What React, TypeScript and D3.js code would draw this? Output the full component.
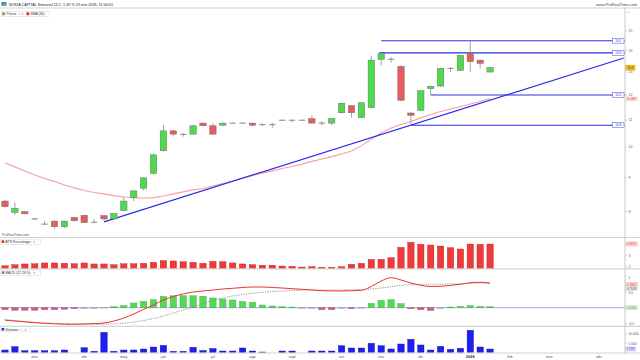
import React from 'react';
import * as d3 from 'd3';

// ---------- data ----------
const START_WEEK = new Date(2025, 1, 10);
const AXIS_WEEKS = 60;

const opens = [8.29, 7.97, 7.99, 7.79, 7.65, 7.73, 7.58, 7.83, 7.89, 7.70, 7.88, 7.79, 8.02, 8.39, 8.67, 9.13, 9.88, 10.59, 10.46, 10.47, 10.88, 10.78, 10.80, 10.88, 10.88, 10.88, 10.82, 10.82, 10.99, 10.99, 10.99, 11.05, 10.88, 10.88, 11.28, 11.56, 11.09, 11.48, 13.59, 13.59, 13.26, 11.27, 11.38, 12.27, 12.38, 13.17, 13.08, 13.88, 13.55, 13.00];
const highs = [8.33, 8.24, 8.01, 7.82, 7.73, 7.75, 7.74, 7.85, 7.90, 7.78, 7.89, 7.95, 8.40, 8.60, 9.00, 9.78, 10.81, 10.62, 10.52, 10.80, 10.90, 10.87, 10.90, 10.90, 10.90, 10.90, 10.87, 10.89, 11.01, 11.01, 11.01, 11.18, 10.95, 11.06, 11.68, 11.58, 11.70, 13.76, 13.88, 13.70, 13.30, 11.30, 12.20, 12.40, 13.20, 13.22, 13.80, 14.49, 13.57, 13.22];
const lows = [8.11, 7.90, 7.92, 7.76, 7.64, 7.53, 7.54, 7.73, 7.68, 7.67, 7.74, 7.76, 8.00, 8.29, 8.60, 9.10, 9.85, 10.38, 10.38, 10.45, 10.76, 10.45, 10.78, 10.86, 10.86, 10.78, 10.77, 10.71, 10.97, 10.90, 10.97, 10.86, 10.80, 10.80, 11.25, 11.09, 11.07, 11.45, 13.30, 13.44, 11.75, 10.77, 11.35, 12.00, 12.35, 13.00, 13.05, 12.99, 13.17, 12.99];
const closes = [8.13, 8.08, 7.93, 7.79, 7.65, 7.58, 7.73, 7.74, 7.69, 7.70, 7.79, 7.94, 8.29, 8.59, 8.99, 9.74, 10.59, 10.47, 10.46, 10.78, 10.78, 10.47, 10.88, 10.88, 10.88, 10.80, 10.82, 10.82, 10.99, 10.99, 10.99, 10.88, 10.88, 11.05, 11.66, 11.28, 11.68, 13.55, 13.86, 13.59, 11.78, 11.18, 12.18, 12.37, 13.17, 13.17, 13.78, 13.48, 13.40, 13.20];
const sma30 = [9.47, 9.34, 9.21, 9.08, 8.97, 8.88, 8.77, 8.68, 8.60, 8.54, 8.50, 8.45, 8.41, 8.39, 8.38, 8.39, 8.44, 8.50, 8.56, 8.62, 8.66, 8.74, 8.81, 8.89, 8.98, 9.06, 9.14, 9.21, 9.29, 9.35, 9.43, 9.52, 9.60, 9.68, 9.77, 9.87, 10.05, 10.29, 10.51, 10.70, 10.83, 10.94, 11.08, 11.21, 11.33, 11.43, 11.53, 11.63, 11.73, 11.867];
const atrPct = [2.09, 2.18, 2.25, 2.27, 2.34, 2.34, 2.31, 2.27, 2.34, 2.25, 2.25, 2.18, 2.27, 2.27, 2.31, 2.40, 2.55, 2.52, 2.45, 2.40, 2.31, 2.49, 2.45, 2.34, 2.25, 2.18, 2.13, 2.13, 2.06, 2.04, 1.97, 2.00, 1.95, 1.95, 2.00, 2.22, 2.31, 2.67, 2.67, 2.82, 3.76, 4.22, 4.04, 3.97, 3.88, 3.73, 3.61, 4.06, 4.04, 4.061];
const macdLine = [-0.401, -0.424, -0.449, -0.478, -0.497, -0.513, -0.525, -0.529, -0.519, -0.506, -0.487, -0.424, -0.328, -0.201, -0.057, 0.086, 0.245, 0.357, 0.436, 0.500, 0.532, 0.564, 0.596, 0.618, 0.643, 0.659, 0.659, 0.643, 0.627, 0.605, 0.586, 0.564, 0.541, 0.532, 0.532, 0.541, 0.554, 0.675, 0.850, 0.955, 0.882, 0.787, 0.713, 0.675, 0.682, 0.713, 0.745, 0.796, 0.809, 0.7862];
const macdSignal = [-0.369, -0.408, -0.439, -0.465, -0.487, -0.497, -0.510, -0.519, -0.525, -0.529, -0.525, -0.513, -0.494, -0.455, -0.408, -0.344, -0.264, -0.169, -0.073, 0.022, 0.134, 0.229, 0.309, 0.373, 0.420, 0.459, 0.490, 0.516, 0.532, 0.548, 0.557, 0.564, 0.564, 0.564, 0.564, 0.570, 0.580, 0.596, 0.627, 0.669, 0.707, 0.732, 0.745, 0.745, 0.745, 0.755, 0.764, 0.777, 0.787, 0.7538];
const macdHist = [-0.064, -0.08, -0.08, -0.08, -0.064, -0.064, -0.048, -0.032, -0.016, -0.016, 0.016, 0.032, 0.064, 0.15, 0.20, 0.255, 0.36, 0.38, 0.38, 0.38, 0.366, 0.31, 0.277, 0.245, 0.20, 0.17, 0.086, 0.054, 0.032, 0.022, 0.01, -0.01, -0.064, -0.064, -0.01, -0.032, 0.01, 0.137, 0.232, 0.255, 0.127, -0.032, -0.064, -0.086, -0.01, 0.022, 0.041, 0.064, 0.041, 0.0324];
const volume = [1400, 3170, 1020, 1020, 1020, 1020, 1400, 0, 2630, 700, 10900, 700, 1400, 1400, 1940, 3000, 3900, 700, 700, 2850, 1130, 2200, 860, 860, 2470, 860, 320, 0, 860, 860, 0, 860, 860, 860, 3700, 2470, 2470, 5000, 3700, 1940, 4620, 7150, 4090, 1400, 3390, 1770, 2310, 12000, 3010, 1926];

const levelValues = [14.5, 13.9, 12.0, 10.8];
const levelLabels = ['14.5', '13.9', '12.0', '10.8'];
const levelStartWeeks = [38, 37.8, 43, 41];
const trendWeeks = [10, 62.5];
const trendPrices = [7.71, 13.65];

const priceTicks = [8, 9, 10, 11, 12, 13, 14, 15];
const atrTicks = [2, 3];
const macdTicks = [-0.5, 0.5, 1];
const volumeTicks = [5000, 10000];
const volumeTickLabels = ['5.000', '10.000'];
const monthNames = ['ene', 'feb', 'mar', 'abr', 'may', 'jun', 'jul', 'ago', 'sept', 'oct', 'nov', 'dic'];

const titleText = 'NOKIA CAPITAL Semanal 13,2 -1,49 % 19 ene 2026, 11:00:01';

// ---------- layout ----------
const FONT = 'Liberation Sans, Arial, sans-serif';
const AX = 625;
const MAIN_TOP = 8;
const MAIN_BOTTOM = 237.5;
const ATR_BOTTOM = 268.8;
const MACD_BOTTOM = 326.3;
const VOL_BOTTOM = 352.6;

function Tag({ x, y, w, h = 5, text, fill, stroke, color }: any) {
  return (
    <g>
      <rect x={x} y={y - h / 2} width={w} height={h} fill={fill} stroke={stroke} strokeWidth={0.5} />
      <text x={x + w / 2} y={y + 1.1} fontSize={3.2} textAnchor="middle" fill={color} fontFamily={FONT}>{text}</text>
    </g>
  );
}

function PanelLabel({ x, y, w, swatch, text }: any) {
  return (
    <g fontFamily={FONT}>
      <rect x={x} y={y - 2.6} width={w} height={5.2} fill="#fff" stroke="#ccc" strokeWidth={0.4} />
      {swatch}
      <text x={x + 4.5} y={y + 1.2} fontSize={3.4} fill="#333">{text}</text>
    </g>
  );
}

export default function App() {
  const weeks = d3.range(AXIS_WEEKS + 3).map((i) => d3.timeDay.offset(START_WEEK, 7 * i));
  const x = d3.scaleTime().domain([weeks[0], weeks[AXIS_WEEKS]]).range([5, 599]);
  const xi = (i: number) => x(d3.timeHour.offset(START_WEEK, Math.round(i * 168)));
  const y = d3.scaleLog().domain([8, 15]).range([211.3, 31]);
  const yAtr = d3.scaleLinear().domain([2, 3]).range([266.7, 255.7]);
  const yMacd = d3.scaleLinear().domain([0, 1]).range([307.7, 276.3]);
  const yVol = d3.scaleLinear().domain([0, 10000]).range([VOL_BOTTOM, 334]);
  const bw = 6.4;

  const smaPath = d3.line<number>().x((_, i) => xi(i)).y((d) => y(d))(sma30) || '';
  const macdPath = d3.line<number>().x((_, i) => xi(i)).y((d) => yMacd(d)).curve(d3.curveMonotoneX)(macdLine) || '';
  const sigPath = d3.line<number>().x((_, i) => xi(i)).y((d) => yMacd(d)).curve(d3.curveMonotoneX)(macdSignal) || '';

  const monthTicks = weeks
    .slice(0, AXIS_WEEKS + 1)
    .map((d, i) => ({ d, i }))
    .filter(({ d, i }) => i > 0 && d.getMonth() !== weeks[i - 1].getMonth());

  const sepLine = (yy: number) => <line x1={0} x2={640} y1={yy} y2={yy} stroke="#d4d4d4" strokeWidth={1.2} />;

  return (
    <svg width={640} height={360} style={{ position: 'absolute', left: 0, top: 0, background: '#fff' }} fontFamily={FONT}>
      <defs>
        <clipPath id="mainClip"><rect x={0} y={MAIN_TOP} width={AX} height={MAIN_BOTTOM - MAIN_TOP} /></clipPath>
      </defs>
      <rect x={0} y={0} width={640} height={360} fill="#fff" />

      {/* header */}
      <rect x={1.5} y={2} width={5} height={4} fill="#3b7dd8" />
      <rect x={3} y={3.5} width={3.5} height={2.5} fill="#5cc85c" />
      <text x={9} y={6.2} fontSize={3.8} fill="#222" textLength={104} lengthAdjust="spacingAndGlyphs">{titleText}</text>
      <text x={596} y={6} fontSize={3.8} fill="#444" textLength={41} lengthAdjust="spacingAndGlyphs">www.ProRealTime.com</text>
      <text x={627} y={13} fontSize={3.4} fill="#777">+,</text>
      {sepLine(MAIN_TOP)}

      {/* legend */}
      <rect x={1.5} y={11.3} width={48} height={5} fill="#fff" stroke="#ccc" strokeWidth={0.4} />
      <rect x={2.3} y={12.4} width={1.4} height={2.8} fill="#e33" />
      <rect x={3.7} y={12.4} width={1.4} height={2.8} fill="#3c3" />
      <text x={6.5} y={15.1} fontSize={3.4} fill="#333">Precio</text>
      <text x={17.5} y={15.1} fontSize={3.4} fill="#777">✎ ✢</text>
      <rect x={26.5} y={12.4} width={2.8} height={2.8} fill="#e22" />
      <text x={30.5} y={15.1} fontSize={3.4} fill="#333">SMA (30)</text>

      {/* main panel */}
      <g clipPath="url(#mainClip)">
        <path d={smaPath} fill="none" stroke="#f29090" strokeWidth={1.1} opacity={0.85} />
        {levelValues.map((v, k) => (
          <line key={'lv' + k} x1={xi(levelStartWeeks[k])} x2={AX} y1={y(v)} y2={y(v)} stroke="#2f2fe8" strokeWidth={1.1} />
        ))}
        <line x1={xi(trendWeeks[0])} y1={y(trendPrices[0])} x2={xi(trendWeeks[1])} y2={y(trendPrices[1])} stroke="#2a2af0" strokeWidth={1.2} />
        {closes.map((c, i) => {
          const o = opens[i];
          const cx = xi(i);
          const up = c > o;
          const doji = Math.abs(c - o) < 0.005;
          const top = y(Math.max(o, c));
          const bot = y(Math.min(o, c));
          return (
            <g key={'c' + i}>
              <line x1={cx} x2={cx} y1={y(highs[i])} y2={y(lows[i])} stroke="#8a8a8a" strokeWidth={0.8} />
              {doji ? (
                <line x1={cx - bw / 2} x2={cx + bw / 2} y1={y(o)} y2={y(o)} stroke="#8a8a8a" strokeWidth={1} />
              ) : (
                <rect x={cx - bw / 2} y={top} width={bw} height={Math.max(1, bot - top)}
                  fill={up ? '#4ddb4d' : '#e85c5c'} stroke="#707070" strokeWidth={0.5} />
              )}
            </g>
          );
        })}
        {levelLabels.map((t, k) => (
          <Tag key={'lt' + k} x={612.5} y={y(levelValues[k])} w={11.5} text={t} fill="#fff" stroke="#4a4aee" color="#3333cc" />
        ))}
      </g>
      <text x={2} y={236.3} fontSize={3.4} fill="#555">ProRealTime.com</text>

      {/* price axis */}
      {priceTicks.map((t) => (
        <g key={'pt' + t}>
          <line x1={AX} x2={AX + 2} y1={y(t)} y2={y(t)} stroke="#999" strokeWidth={0.5} />
          <text x={AX + 3.5} y={y(t) + 1.2} fontSize={3.5} fill="#555">{t}</text>
        </g>
      ))}
      <Tag x={AX + 0.5} y={y(closes[closes.length - 1])} w={9.5} text="13.2" fill="#f2c21a" stroke="#d9a800" color="#333" />
      <Tag x={AX + 0.5} y={y(sma30[sma30.length - 1]) + 0.8} w={12} h={4.2} text={String(sma30[sma30.length - 1])} fill="#fde2e2" stroke="#fde2e2" color="#e03030" />
      {sepLine(MAIN_BOTTOM)}

      {/* ATR panel */}
      {atrPct.map((v, i) => (
        <rect key={'a' + i} x={xi(i) - bw / 2} y={yAtr(v)} width={bw} height={ATR_BOTTOM - yAtr(v)}
          fill="#ee3a3a" stroke="#c42020" strokeWidth={0.4} />
      ))}
      <PanelLabel x={0.8} y={241.7} w={40} text="ATR Percentage"
        swatch={<rect x={1.6} y={240.3} width={2.6} height={2.6} fill="#e22" />} />
      <text x={29} y={242.9} fontSize={3.4} fill="#777">✎ ✢</text>
      {atrTicks.map((t) => (
        <g key={'at' + t}>
          <line x1={AX} x2={AX + 2} y1={yAtr(t)} y2={yAtr(t)} stroke="#999" strokeWidth={0.5} />
          <text x={AX + 3.5} y={yAtr(t) + 1.2} fontSize={3.5} fill="#555">{t}</text>
        </g>
      ))}
      <Tag x={AX + 0.5} y={yAtr(atrPct[atrPct.length - 1])} w={12} h={4.2} text="4.0610" fill="#fde2e2" stroke="#f3b0b0" color="#e03030" />
      {sepLine(ATR_BOTTOM)}

      {/* MACD panel */}
      <line x1={0} x2={AX} y1={yMacd(0)} y2={yMacd(0)} stroke="#a4a4f2" strokeWidth={1} />
      {macdHist.map((v, i) => {
        const y0 = yMacd(0);
        const y1 = yMacd(v);
        const small = Math.abs(v) < 0.02;
        return (
          <rect key={'h' + i} x={xi(i) - bw / 2} y={Math.min(y0, y1)} width={bw} height={Math.max(0.8, Math.abs(y1 - y0))}
            fill={small ? '#b8b8b8' : v > 0 ? '#55d855' : '#cc6080'} stroke={small ? '#999' : v > 0 ? '#3aa83a' : '#a84866'} strokeWidth={0.4} />
        );
      })}
      <path d={sigPath} fill="none" stroke="#888" strokeWidth={0.9} strokeDasharray="1.2,1.2" />
      <path d={macdPath} fill="none" stroke="#ee3030" strokeWidth={1} />
      <PanelLabel x={0.8} y={272.7} w={40} text="MACD (12 26 9)"
        swatch={<g><rect x={1.6} y={271.3} width={1.3} height={2.6} fill="#3c3" /><rect x={2.9} y={271.3} width={1.3} height={2.6} fill="#e33" /></g>} />
      <text x={29} y={273.9} fontSize={3.4} fill="#777">✎ ✢</text>
      {macdTicks.map((t) => (
        <g key={'mt' + t}>
          <line x1={AX} x2={AX + 2} y1={yMacd(t)} y2={yMacd(t)} stroke="#999" strokeWidth={0.5} />
          <text x={AX + 3.5} y={yMacd(t) + (t === 1 ? 2.2 : t === 0.5 ? 1.8 : 1.2)} fontSize={3.3} fill="#555">{t}</text>
        </g>
      ))}
      <Tag x={AX + 0.5} y={284.6} w={12} h={3.8} text={String(macdLine[macdLine.length - 1])} fill="#fde2e2" stroke="#f3b0b0" color="#e03030" />
      <Tag x={AX + 0.5} y={288.4} w={12} h={3.8} text={String(macdSignal[macdSignal.length - 1])} fill="#eeeeee" stroke="#cfcfcf" color="#555" />
      <Tag x={AX + 0.5} y={yMacd(0)} w={12} h={4.2} text={String(macdHist[macdHist.length - 1])} fill="#e2f6e2" stroke="#b8e4b8" color="#3a9a3a" />
      {sepLine(MACD_BOTTOM)}

      {/* Volume panel */}
      {volume.map((v, i) => (
        v > 0 ? (
          <rect key={'v' + i} x={xi(i) - bw / 2} y={yVol(v)} width={bw} height={VOL_BOTTOM - yVol(v)}
            fill="#2020ee" stroke="#0c0ca8" strokeWidth={0.4} />
        ) : null
      ))}
      <PanelLabel x={0.8} y={329.3} w={30} text="Volumen"
        swatch={<rect x={1.6} y={327.9} width={2.6} height={2.6} fill="#22e" />} />
      <text x={20} y={330.5} fontSize={3.4} fill="#777">✎ ✢</text>
      {volumeTicks.map((t, k) => (
        <g key={'vt' + t}>
          <line x1={AX} x2={AX + 2} y1={yVol(t)} y2={yVol(t)} stroke="#999" strokeWidth={0.5} />
          <text x={AX + 3.5} y={yVol(t) + 1.2} fontSize={3.3} fill="#555">{volumeTickLabels[k]}</text>
        </g>
      ))}
      <Tag x={AX + 0.5} y={yVol(volume[volume.length - 1])} w={10} h={4} text="1.926" fill="#e4e4ff" stroke="#b4b4f0" color="#3030dd" />
      {sepLine(VOL_BOTTOM + 0.4)}

      {/* right axis line */}
      <line x1={AX} x2={AX} y1={MAIN_TOP} y2={VOL_BOTTOM + 1} stroke="#c8c8c8" strokeWidth={1} />

      {/* x axis */}
      {monthTicks.map(({ d, i }) => (
        <text key={'m' + i} x={xi(i)} y={357.6} fontSize={3.8} textAnchor="middle"
          fill={d.getMonth() === 0 ? '#222' : '#555'} fontWeight={d.getMonth() === 0 ? 'bold' : 'normal'}>
          {d.getMonth() === 0 ? String(d.getFullYear()) : monthNames[d.getMonth()]}
        </text>
      ))}
    </svg>
  );
}
